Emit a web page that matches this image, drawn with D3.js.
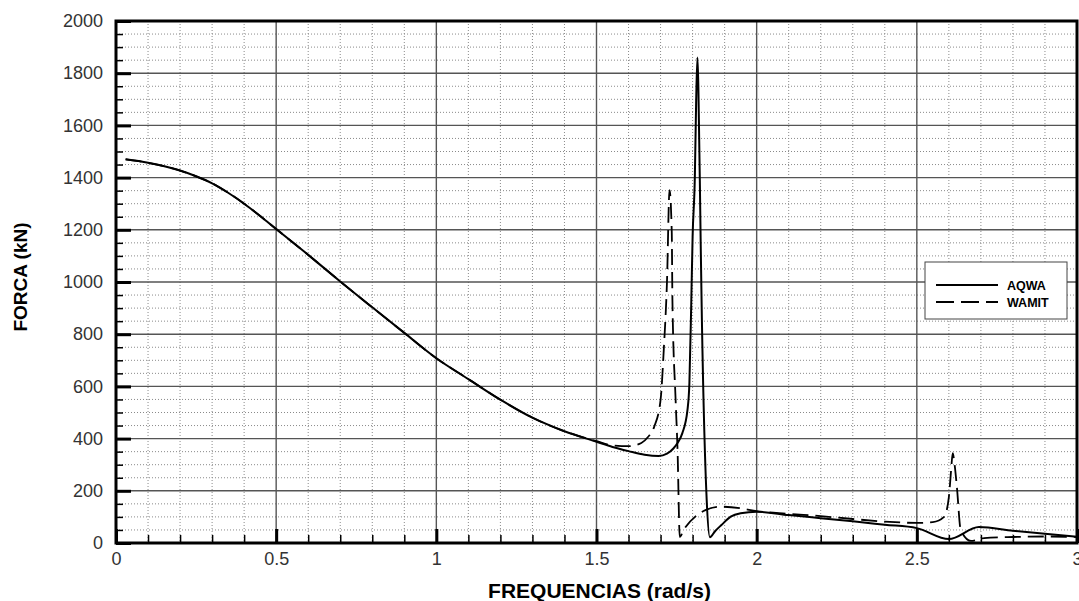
<!DOCTYPE html>
<html>
<head>
<meta charset="utf-8">
<script src="https://cdn.jsdelivr.net/npm/d3@7/dist/d3.min.js"></script>
<style>
  html, body { margin: 0; padding: 0; background: #fff; }
  svg { display: block; }
</style>
</head>
<body>
<svg id="chart" width="1079" height="601"></svg>
<script>
// ---- data ----
const freqAqwa = [0.03,0.1,0.2,0.25,0.3,0.35,0.4,0.45,0.5,0.6,0.7,0.8,0.9,1.0,1.1,1.2,1.3,1.4,1.5,1.55,1.6,1.65,1.694,1.72,1.74,1.753,1.768,1.784,1.79,1.796,1.80,1.807,1.811,1.815,1.818,1.825,1.828,1.844,1.854,1.87,1.89,1.919,1.95,2.0,2.1,2.2,2.3,2.4,2.5,2.6,2.694,2.8,2.9,3.0];
const forceAqwa = [1470,1457,1427,1405,1378,1342,1300,1253,1203,1104,1002,903,805,708,628,549,480,428,388,368,352,338,333,342,362,383,421,510,613,931,1172,1402,1686,1860,1750,1172,931,165,22,45,69,101,114,120,107,95,83,70,57,15,61,47,35,24];

const freqWamit = [0.03,0.1,0.2,0.25,0.3,0.35,0.4,0.45,0.5,0.6,0.7,0.8,0.9,1.0,1.1,1.2,1.3,1.4,1.5,1.55,1.6,1.64,1.66,1.68,1.70,1.71,1.72,1.728,1.735,1.737,1.747,1.753,1.76,1.772,1.81,1.84,1.8875,1.95,2.0,2.1,2.2,2.3,2.4,2.5,2.55,2.585,2.6,2.607,2.612,2.618,2.625,2.637,2.669,2.71,2.8,2.9,3.0];
const forceWamit = [1470,1457,1427,1405,1378,1342,1300,1253,1203,1104,1002,903,805,708,628,549,480,428,390,374,371,383,405,445,548,740,1000,1352,1188,931,548,356,23,50,103,126,139,133,122,112,103,92,82,77,80,100,176,280,344,300,215,50,8,19,23,25,23];

const seriesNames = ["AQWA", "WAMIT"];
const xMajorTicks = [0, 0.5, 1, 1.5, 2, 2.5, 3];
const xTickLabels = ["0", "0.5", "1", "1.5", "2", "2.5", "3"];
const yMajorTicks = [0,200,400,600,800,1000,1200,1400,1600,1800,2000];
const xTitle = "FREQUENCIAS (rad/s)";
const yTitle = "FORCA (kN)";

// ---- layout ----
const L = 116, R = 1077, T = 21, B = 543;
const svg = d3.select("#chart");
const x = d3.scaleLinear().domain([0, 3]).range([L, R]);
const y = d3.scaleLinear().domain([0, 2000]).range([B, T]);

const xMinor = d3.range(0, 31).map(i => i / 10);
const yMinor = d3.range(0, 41).map(i => i * 50);

// minor grid (dotted)
const grid = svg.append("g");
grid.selectAll("line.vmin").data(xMinor.filter((v, i) => i % 5 !== 0)).enter()
  .append("line").attr("x1", d => x(d)).attr("x2", d => x(d)).attr("y1", T).attr("y2", B)
  .attr("stroke", "#8a8a8a").attr("stroke-width", 1).attr("stroke-dasharray", "1,2");
grid.selectAll("line.hmin").data(yMinor.filter((v, i) => i % 4 !== 0)).enter()
  .append("line").attr("x1", L).attr("x2", R).attr("y1", d => y(d)).attr("y2", d => y(d))
  .attr("stroke", "#8a8a8a").attr("stroke-width", 1).attr("stroke-dasharray", "1,2");
// major grid (solid)
grid.selectAll("line.vmaj").data(xMajorTicks).enter()
  .append("line").attr("x1", d => x(d)).attr("x2", d => x(d)).attr("y1", T).attr("y2", B)
  .attr("stroke", "#555").attr("stroke-width", 1.4);
grid.selectAll("line.hmaj").data(yMajorTicks).enter()
  .append("line").attr("x1", L).attr("x2", R).attr("y1", d => y(d)).attr("y2", d => y(d))
  .attr("stroke", "#555").attr("stroke-width", 1.4);

// axes: minor ticks
svg.append("g").attr("transform", `translate(${L},0)`)
  .call(d3.axisLeft(y).tickValues(yMinor).tickSize(-7).tickFormat(""))
  .call(g => g.select(".domain").remove())
  .call(g => g.selectAll("line").attr("stroke", "#000").attr("stroke-width", 1.5));
svg.append("g").attr("transform", `translate(0,${B})`)
  .call(d3.axisBottom(x).tickValues(xMinor).tickSize(-8).tickFormat(""))
  .call(g => g.select(".domain").remove())
  .call(g => g.selectAll("line").attr("stroke", "#000").attr("stroke-width", 1.5));

// axes: major ticks + labels
svg.append("g").attr("transform", `translate(${L},0)`)
  .call(d3.axisLeft(y).tickValues(yMajorTicks).tickSize(-15).tickPadding(13).tickFormat(d3.format("d")))
  .call(g => g.select(".domain").remove())
  .call(g => g.selectAll("line").attr("stroke", "#000").attr("stroke-width", 3))
  .call(g => g.selectAll("text").attr("font-family", "Liberation Sans, Arial, sans-serif")
      .attr("font-size", 18).attr("fill", "#333"));
svg.append("g").attr("transform", `translate(0,${B})`)
  .call(d3.axisBottom(x).tickValues(xMajorTicks).tickSize(-14).tickPadding(9)
      .tickFormat((d, i) => xTickLabels[i]))
  .call(g => g.select(".domain").remove())
  .call(g => g.selectAll("line").attr("stroke", "#000").attr("stroke-width", 3))
  .call(g => g.selectAll("text").attr("font-family", "Liberation Sans, Arial, sans-serif")
      .attr("font-size", 18).attr("fill", "#333"));

// clip
svg.append("defs").append("clipPath").attr("id", "clip")
  .append("rect").attr("x", L).attr("y", T).attr("width", R - L).attr("height", B - T);

const line = d3.line().x(d => x(d[0])).y(d => y(d[1])).curve(d3.curveMonotoneX);
const aqwaPts = freqAqwa.map((f, i) => [f, forceAqwa[i]]);
const wamitPts = freqWamit.map((f, i) => [f, forceWamit[i]]);

const plot = svg.append("g").attr("clip-path", "url(#clip)");
plot.append("path").datum(wamitPts).attr("d", line)
  .attr("fill", "none").attr("stroke", "#000").attr("stroke-width", 1.8)
  .attr("stroke-dasharray", "16,7");
plot.append("path").datum(aqwaPts).attr("d", line)
  .attr("fill", "none").attr("stroke", "#000").attr("stroke-width", 2);

// frame
svg.append("rect").attr("x", L).attr("y", T).attr("width", R - L).attr("height", B - T)
  .attr("fill", "none").attr("stroke", "#000").attr("stroke-width", 3);

// legend
const lg = svg.append("g");
lg.append("rect").attr("x", 925).attr("y", 262).attr("width", 142).attr("height", 57)
  .attr("fill", "#fff").attr("stroke", "#444").attr("stroke-width", 1);
const legendY = [285, 302];
seriesNames.forEach((name, i) => {
  lg.append("line").attr("x1", 936).attr("x2", 998).attr("y1", legendY[i]).attr("y2", legendY[i])
    .attr("stroke", "#000").attr("stroke-width", 2)
    .attr("stroke-dasharray", i === 1 ? "18,7" : null);
  lg.append("text").attr("x", 1007).attr("y", legendY[i] + 4.5)
    .attr("font-family", "Liberation Sans, Arial, sans-serif").attr("font-weight", "bold")
    .attr("font-size", 12.5).attr("fill", "#000")
    .text(name);
});

// axis titles
svg.append("text").attr("x", (L + R) / 2 + 3).attr("y", 598).attr("text-anchor", "middle")
  .attr("font-family", "Liberation Sans, Arial, sans-serif").attr("font-weight", "bold")
  .attr("font-size", 21).attr("fill", "#000").text(xTitle);
svg.append("text").attr("transform", "translate(27,277) rotate(-90)").attr("text-anchor", "middle")
  .attr("font-family", "Liberation Sans, Arial, sans-serif").attr("font-weight", "bold")
  .attr("font-size", 19).attr("fill", "#000").text(yTitle);
</script>
</body>
</html>
